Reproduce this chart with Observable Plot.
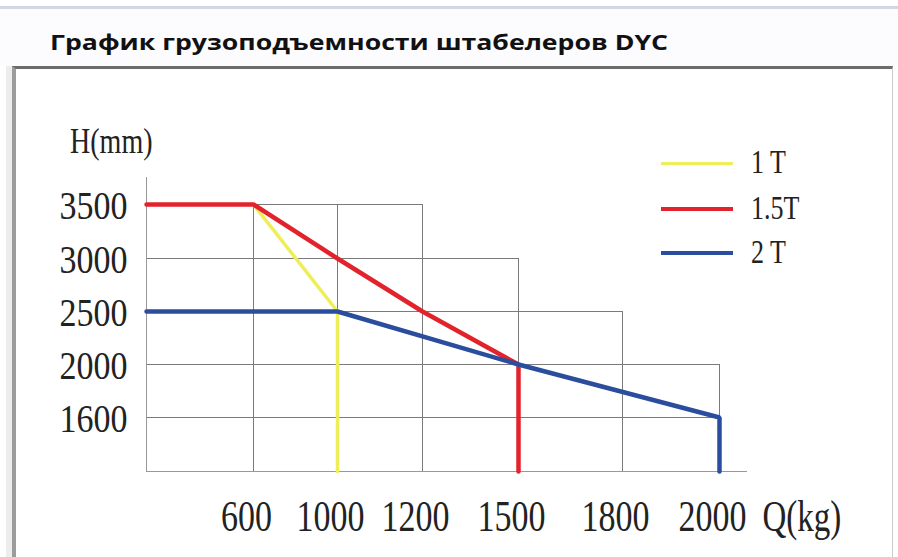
<!DOCTYPE html>
<html>
<head>
<meta charset="utf-8">
<script src="https://cdn.jsdelivr.net/npm/d3@7"></script>
<script src="https://cdn.jsdelivr.net/npm/@observablehq/plot@0.6"></script>
<style>
  html, body { margin: 0; padding: 0; background: #fff; }
  #page { position: relative; width: 898px; height: 557px; overflow: hidden; background: #fff; }
  #topline { position: absolute; left: 0; top: 6px; width: 898px; height: 3px; background: #d3d6e5; }
  #titlebg { position: absolute; left: 0; top: 9px; width: 898px; height: 57px; background: #fcfcfe; }
  #title { position: absolute; left: 0; top: 0; }
  #leftshade { position: absolute; left: 6px; top: 66px; width: 6px; height: 491px; background: #ededed; }
  #box { position: absolute; left: 12px; top: 66px; width: 881px; height: 500px; box-sizing: border-box;
         border-top: 3px solid #6c6c6c; border-left: 4px solid #9c9c9c; border-right: 1px solid #cccccc; background: #fff; }
  #chart { position: absolute; left: 0; top: 0; }
  #legend { position: absolute; left: 0; top: 0; width: 898px; height: 557px; pointer-events: none; }
  .lg-line { position: absolute; left: 661px; width: 72px; }
  .lg-text { position: absolute; left: 751px; font-family: "Liberation Serif", serif; font-size: 26px; line-height: 26px;
             color: #222; display: inline-block; transform: scaleY(1.3); transform-origin: center; white-space: pre; }
</style>
</head>
<body>
<div id="page">
  <div id="topline"></div>
  <div id="titlebg"></div>
  <svg id="title" width="898" height="66">
    <text x="50" y="50" textLength="618" lengthAdjust="spacingAndGlyphs"
          font-family="Open Sans, sans-serif" font-weight="700" font-size="21" fill="#111">График грузоподъемности штабелеров DYC</text>
  </svg>
  <div id="leftshade"></div>
  <div id="box"></div>
  <div id="chart"></div>
  <div id="legend"></div>
</div>
<script>
// ---- data ----
const qTicks   = [600, 1000, 1200, 1500, 1800, 2000];      // x tick values (kg)
const qTickTop = [3500, 3500, 3500, 3000, 2500, 2000];     // top of each vertical grid line
const hTicks   = [3500, 3000, 2500, 2000, 1600];           // y tick values (mm)
const hTickEnd = [1200, 1500, 1800, 2000, 2000];           // right end of each horizontal grid line
const qDomain  = [0, 600, 1000, 1200, 1500, 1800, 2000, 2150];
const hDomain  = [1200, 1600, 2000, 2500, 3000, 3500, 3750];
const xLabel = "Q(kg)";
const yLabel = "H(mm)";

const seriesNames  = ["1 T", "1.5T", "2 T"];
const seriesColors = ["#eeee58", "#e3232b", "#2b4d9d"];
const q1T  = [600, 1000, 1000];
const h1T  = [3500, 2500, 1200];
const q15T = [0, 600, 1000, 1200, 1500, 1500];
const h15T = [3500, 3500, 3000, 2500, 2000, 1200];
const q2T  = [0, 1000, 1500, 2000, 2000];
const h2T  = [2500, 2500, 2000, 1600, 1200];

// ---- tables ----
const toPts = (qs, hs) => qs.map((q, i) => ({q, h: hs[i]}));
const vGrid = qTicks.map((q, i) => ({q, top: qTickTop[i]}));
const hGrid = hTicks.map((h, i) => ({h, end: hTickEnd[i]}));
const series = [toPts(q1T, h1T), toPts(q15T, h15T), toPts(q2T, h2T)];
const widths = [3.5, 4.5, 4.5];
const grid = "#7a7a7a";
const serif = "Liberation Serif, serif";

const chart = Plot.plot({
  width: 898, height: 557,
  marginLeft: 146, marginRight: 151, marginTop: 177, marginBottom: 86,
  style: {background: "transparent", overflow: "visible"},
  x: {type: "linear", domain: qDomain, range: [146, 253, 337, 422, 518, 622, 719, 747], axis: null},
  y: {type: "linear", domain: hDomain, range: [471, 417, 364, 311, 258, 204, 177], axis: null},
  marks: [
    Plot.ruleX(vGrid, {x: "q", y1: hDomain[0], y2: "top", stroke: grid, strokeWidth: 1}),
    Plot.ruleY(hGrid, {y: "h", x1: qDomain[0], x2: "end", stroke: grid, strokeWidth: 1}),
    Plot.ruleX([qDomain[0]], {y1: hDomain[0], y2: hDomain[hDomain.length - 1], stroke: "#999", strokeWidth: 1}),
    Plot.ruleY([hDomain[0]], {x1: qDomain[0], x2: qDomain[qDomain.length - 1], stroke: "#999", strokeWidth: 1}),
    ...series.map((pts, i) => Plot.line(pts, {x: "q", y: "h", stroke: seriesColors[i], strokeWidth: widths[i], strokeLinejoin: "miter"})),
    Plot.text(qTicks, {x: d => d, frameAnchor: "bottom", text: d => String(d), dx: -7, dy: 59,
      lineAnchor: "bottom", textAnchor: "middle", fontFamily: serif, fontSize: 34, fill: "#222"}),
    Plot.text(hTicks, {y: d => d, frameAnchor: "left", text: d => String(d), dx: -19, dy: 14,
      lineAnchor: "bottom", textAnchor: "end", fontFamily: serif, fontSize: 34, fill: "#222"}),
    Plot.text([xLabel], {frameAnchor: "bottom-right", text: d => d, dx: 15, dy: 59,
      lineAnchor: "bottom", textAnchor: "start", fontFamily: serif, fontSize: 33, fill: "#222"}),
    Plot.text([yLabel], {frameAnchor: "top-left", text: d => d, dx: 6, dy: -25,
      lineAnchor: "bottom", textAnchor: "end", fontFamily: serif, fontSize: 28, fill: "#222"})
  ]
});
document.getElementById("chart").appendChild(chart);

// vertical stretch of the narrow serif labels (text marks, in order)
function stretch(g, sy) {
  if (!g) return;
  g.querySelectorAll("text").forEach(t => {
    let tx = 0, ty = 0;
    const xa = t.getAttribute("x"), ya = t.getAttribute("y");
    if (xa !== null && !/em$/.test(xa)) { tx = +xa; t.removeAttribute("x"); }
    if (ya !== null && !/em$/.test(ya)) { ty = +ya; t.removeAttribute("y"); }
    const tr = t.getAttribute("transform") || "";
    t.setAttribute("transform", `${tr} translate(${tx},${ty}) scale(1,${sy})`);
  });
}
const textGroups = [...chart.querySelectorAll("g")].filter(g => g.querySelector(":scope > text") && g.getAttribute("aria-label") === "text");
const stretches = [1.3, 1.2, 1.35, 1.3];
textGroups.forEach((g, i) => stretch(g, stretches[i] || 1));

// legend
const legend = document.getElementById("legend");
const rowY = [163, 209, 253];
const lgW = [3, 4, 4];
seriesNames.forEach((name, i) => {
  const line = document.createElement("div");
  line.className = "lg-line";
  line.style.top = (rowY[i] - lgW[i] / 2) + "px";
  line.style.height = lgW[i] + "px";
  line.style.background = seriesColors[i];
  legend.appendChild(line);
  const txt = document.createElement("span");
  txt.className = "lg-text";
  txt.style.top = (rowY[i] - 13) + "px";
  txt.textContent = name;
  legend.appendChild(txt);
});
</script>
</body>
</html>
